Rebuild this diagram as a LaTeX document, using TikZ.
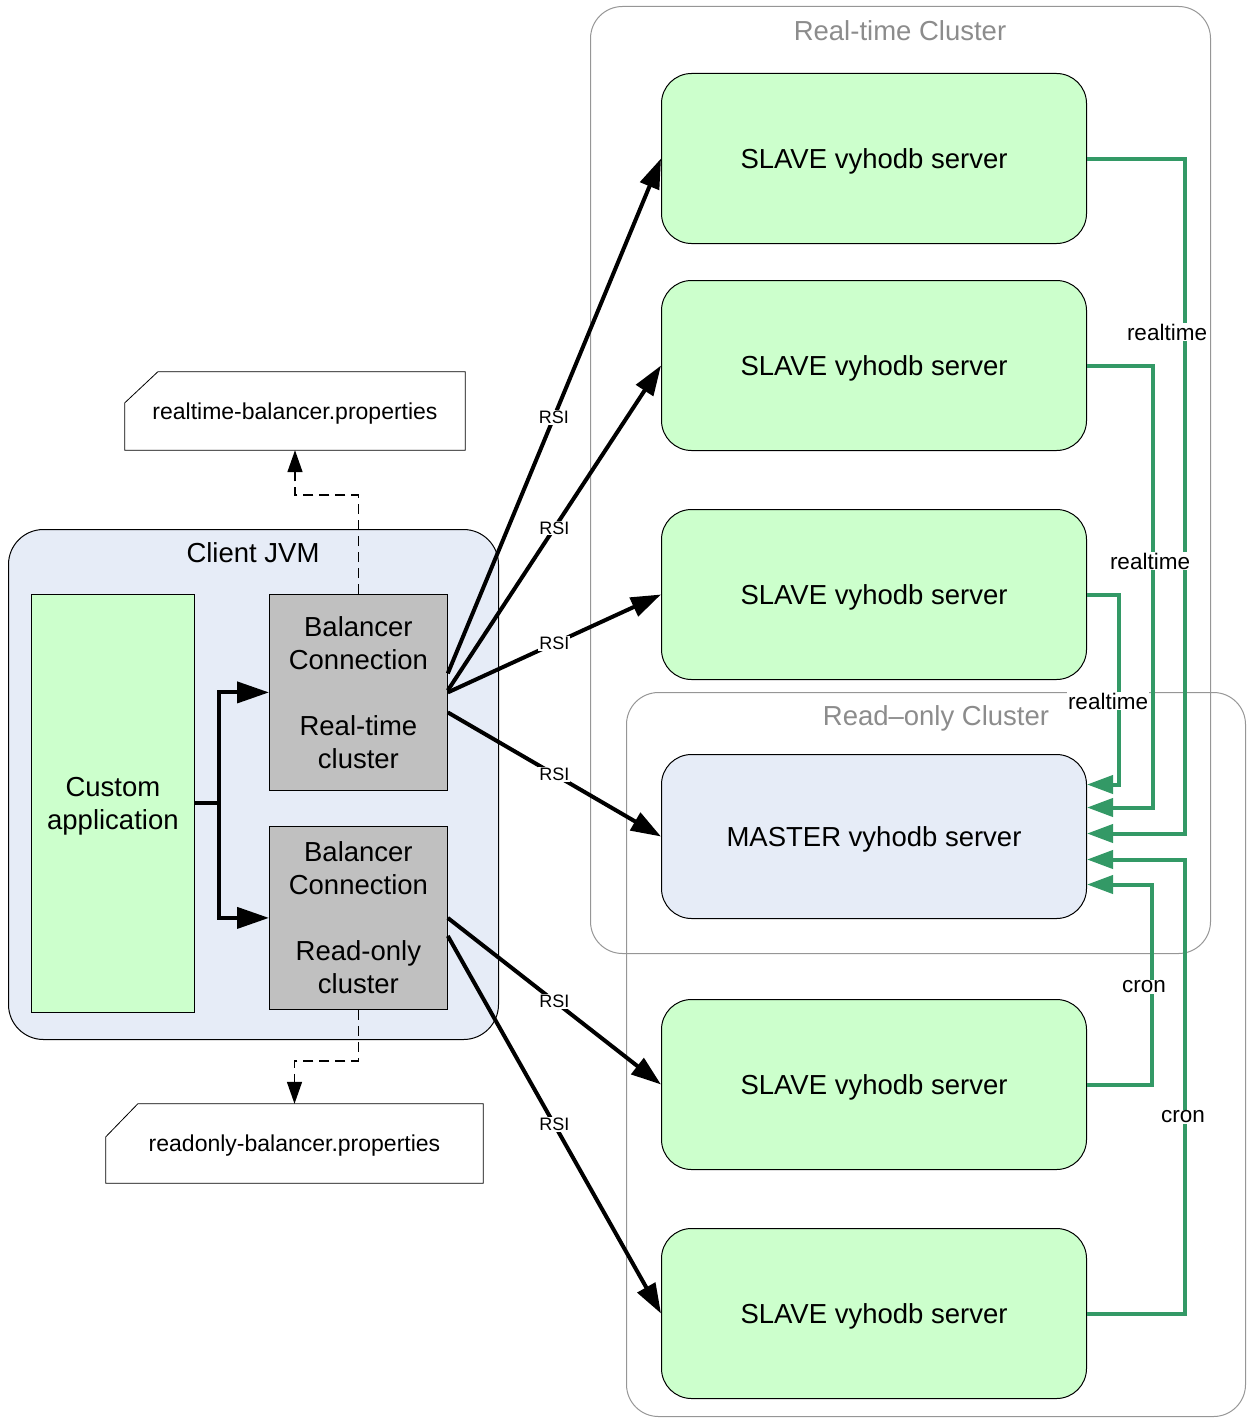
\documentclass[tikz,border=0pt]{standalone}
\usepackage{fontspec}
\setmainfont{Liberation Sans}
\usetikzlibrary{arrows.meta,calc}
\definecolor{sgreen}{RGB}{204,255,204}
\definecolor{lblue}{RGB}{230,236,247}
\definecolor{bgray}{RGB}{192,192,192}
\definecolor{lgreen}{RGB}{51,153,102}
\definecolor{cgray}{RGB}{140,140,140}
\definecolor{cborder}{RGB}{150,150,150}
\begin{document}
\begin{tikzpicture}[x=1pt,y=-1pt,
  bigfont/.style={font=\fontsize{27.5}{33}\selectfont},
  srv/.style={draw=black, line width=1pt, rounded corners=30pt, minimum width=425pt,
    minimum height=170pt, anchor=north west, bigfont, fill=sgreen, inner sep=0pt, text depth=0pt},
  cluster/.style={draw=cborder, line width=1pt, rounded corners=32pt, anchor=north west, inner sep=0pt},
  clusterlabel/.style={text=cgray, bigfont, inner sep=0pt},
  balbox/.style={draw=black, line width=0.8pt, fill=bgray, anchor=north west, minimum width=178pt,
    align=center, bigfont, inner sep=0pt},
  propbox/.style={minimum width=340pt, minimum height=78pt, font=\fontsize{23}{27}\selectfont,
    inner sep=0pt, text depth=0pt},
  propline/.style={draw=black, line width=0.8pt},
  rsiarrow/.style={line width=4pt, -{Triangle[length=30pt,width=20pt]}},
  apparrow/.style={line width=4pt, -{Triangle[length=32pt,width=21pt]}},
  dasharrow/.style={line width=1.5pt, dash pattern=on 10pt off 6pt, -{Triangle[length=22pt,width=15pt]}},
  rsilabel/.style={fill=white, inner sep=1pt, font=\fontsize{18}{20}\selectfont},
  gline/.style={draw=lgreen, line width=4pt, -{Triangle[length=26pt,width=18pt]}},
  glabel/.style={fill=white, inner sep=1pt, font=\fontsize{22.5}{25}\selectfont}
]
\useasboundingbox (0,0) rectangle (1252,1418);

% clusters
\node[cluster, minimum width=620pt, minimum height=947pt] (rtc) at (590,6) {};
\node[cluster, minimum width=619pt, minimum height=724pt] (roc) at (626,692) {};
\node[clusterlabel] (rtcl) at (900,31) {Real-time Cluster};
\node[clusterlabel] (rocl) at (936,718) {Read–only Cluster};

% servers
\node[srv] (s1) at (661,73) {SLAVE vyhodb server};
\node[srv] (s2) at (661,280) {SLAVE vyhodb server};
\node[srv] (s3) at (661,509) {SLAVE vyhodb server};
\node[srv, fill=lblue, minimum height=164pt] (m) at (661,754) {MASTER vyhodb server};
\node[srv] (s5) at (661,999) {SLAVE vyhodb server};
\node[srv] (s6) at (661,1228) {SLAVE vyhodb server};

% client JVM
\node[draw=black, line width=1pt, fill=lblue, rounded corners=35pt, anchor=north west,
  minimum width=490pt, minimum height=510pt, inner sep=0pt] (jvm) at (8,529) {};
\node[bigfont, inner sep=0pt] (jvml) at (253,553) {Client JVM};
\node[draw=black, line width=0.8pt, fill=sgreen, anchor=north west, minimum width=163pt,
  minimum height=418pt, align=center, bigfont, inner sep=0pt, text depth=0pt] (app) at (31,594) {Custom\\application};
\node[balbox, minimum height=196pt] (brt) at (269,594) {Balancer\\Connection\\[33pt]Real-time\\cluster};
\node[balbox, minimum height=183pt] (bro) at (269,826) {Balancer\\Connection\\[33pt]Read-only\\cluster};

% property files
\node[propbox] (rtp) at (295,411) {realtime-balancer.properties};
\draw[propline] ([yshift=-31pt]rtp.north west) -- ([xshift=33pt]rtp.north west) -- (rtp.north east)
  -- (rtp.south east) -- (rtp.south west) -- cycle;
\node[propbox, minimum width=377pt, minimum height=79pt] (rop) at (294.5,1143.5) {readonly-balancer.properties};
\draw[propline] ([yshift=-33pt]rop.north west) -- ([xshift=32pt]rop.north west) -- (rop.north east)
  -- (rop.south east) -- (rop.south west) -- cycle;

% dashed connectors
\draw[dasharrow] (brt.north) -- ++(0,-99) -| (rtp.south);
\draw[dasharrow] (bro.south) -- ++(0,51) -| (rop.north);

% app to balancers
\draw[apparrow] (app.east) -- ++(24,0) |- (brt.west);
\draw[apparrow] (app.east) -- ++(24,0) |- (bro.west);

% RSI connectors
\draw[rsiarrow] ([yshift=19pt]brt.east) -- (s1.west) node[rsilabel, pos=0.497] {RSI};
\draw[rsiarrow] ([yshift=2pt]brt.east) -- (s2.west) node[rsilabel, pos=0.5] {RSI};
\draw[rsiarrow] (brt.east) -- (s3.west) node[rsilabel, pos=0.5] {RSI};
\draw[rsiarrow] ([yshift=-20pt]brt.east) -- (m.west) node[rsilabel, pos=0.5] {RSI};
\draw[rsiarrow] (bro.east) -- (s5.west) node[rsilabel, pos=0.5] {RSI};
\draw[rsiarrow] ([yshift=-18pt]bro.east) -- (s6.west) node[rsilabel, pos=0.5] {RSI};

% replication connectors
\draw[gline] (s1.east) -- ++(98,0) |- ([yshift=3pt]m.east);
\draw[gline] (s2.east) -- ++(66,0) |- ([yshift=29pt]m.east);
\draw[gline] (s3.east) -- ++(32,0) |- ([yshift=52pt]m.east);
\draw[gline] (s5.east) -- ++(65,0) |- ([yshift=-48pt]m.east);
\draw[gline] (s6.east) -- ++(98,0) |- ([yshift=-23pt]m.east);

\node[glabel] (g1) at (1167,332) {realtime};
\node[glabel] (g2) at (1150,561) {realtime};
\node[glabel] (g3) at (1108,701) {realtime};
\node[glabel] (g4) at (1144,987) {cron};
\node[glabel] (g5) at (1183,1117) {cron};
\end{tikzpicture}
\end{document}
